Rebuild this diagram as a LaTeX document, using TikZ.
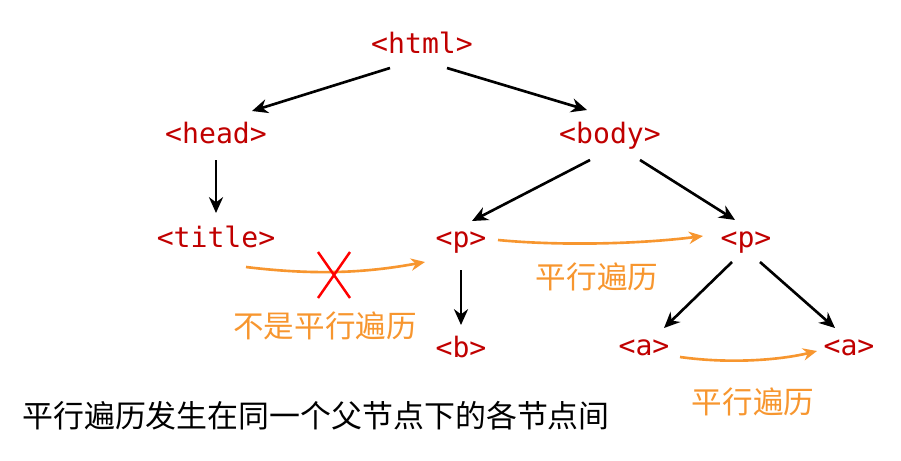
\documentclass[tikz,border=0pt]{standalone}
\usepackage{fontspec}
\usepackage{xcolor}
\usepackage{tikz}
\usetikzlibrary{arrows.meta,calc}
\setmainfont{DejaVu Sans}
\newfontfamily\codefont{DejaVu Sans Mono}
\newfontfamily\cjk{Noto Sans CJK SC}
\definecolor{tagRed}{HTML}{C00000}
\definecolor{walkOrange}{HTML}{F7962F}
\definecolor{crossRed}{HTML}{FF0000}
\tikzset{
  tagnode/.style={inner sep=1pt, text height=12.5pt, text depth=1.6pt, text=tagRed, font=\codefont\fontsize{16}{18}\selectfont},
  treearrow/.style={-{Stealth[length=9pt,width=8pt]}, line width=1.5pt, black},
  walkarrow/.style={-{Stealth[length=8pt,width=7pt]}, line width=1.5pt, walkOrange},
  walklabel/.style={inner sep=0pt, text=walkOrange, font=\cjk\fontsize{17.4}{20}\selectfont},
}
\newcommand{\tagnode}[3]{%
 \node[tagnode] (#1) at (#2) {#3};}

\begin{document}
\begin{tikzpicture}[x=0.02cm, y=-0.02cm]
\useasboundingbox (0,0) rectangle (901,460);
% tags of the tree
\tagnode{html}{422,44}{<html>}
\tagnode{head}{216,134}{<head>}
\tagnode{body}{610,134}{<body>}
\tagnode{title}{216,238}{<title>}
\tagnode{p1}{461,238}{<p>}
\tagnode{p2}{746,238}{<p>}
\tagnode{b}{461,348}{<b>}
\tagnode{a1}{644,346}{<a>}
\tagnode{a2}{849,346}{<a>}
% tree arrows
\draw[treearrow] ($(html)+(-32,24)$) -- ($(head)+(36,-23)$);
\draw[treearrow] ($(html)+(25,24)$) -- ($(body)+(-23,-24)$);
\draw[treearrow] ($(head)+(0,26)$) -- ($(title)+(0,-25)$);
\draw[treearrow] ($(body)+(-20,26)$) -- ($(p1)+(11,-17)$);
\draw[treearrow] ($(body)+(30,26)$) -- ($(p2)+(-11,-18)$);
\draw[treearrow] ($(p1)+(0,32)$) -- ($(b)+(0,-23)$);
\draw[treearrow] ($(p2)+(-14,24)$) -- ($(a1)+(20,-18)$);
\draw[treearrow] ($(p2)+(14,24)$) -- ($(a2)+(-14,-18)$);
% sibling walks
\coordinate (nfrom) at (246,267);
\draw[walkarrow] (nfrom) .. controls (320,276) and (370,272) .. ($(p1)+(-36,24)$);
\draw[walkarrow] ($(p1)+(37,2)$) .. controls (560,246) and (640,244) .. ($(p2)+(-43,-2)$);
\draw[walkarrow] ($(a1)+(36,11)$) .. controls (730,364) and (780,360) .. ($(a2)+(-32,5)$);
% cross over the wrong walk
\draw[crossRed, line width=1.4pt] (318,252) -- (350,298) (350,252) -- (318,298);
% labels
\node[walklabel] (notwalk) at (325,326) {不是平行遍历};
\node[walklabel] (walk1) at (597,277) {平行遍历};
\node[walklabel] (walk2) at (753,402) {平行遍历};
\node[inner sep=0pt, font=\cjk\fontsize{17.6}{20}\selectfont] (rule) at (316,416) {平行遍历发生在同一个父节点下的各节点间};
\end{tikzpicture}
\end{document}
